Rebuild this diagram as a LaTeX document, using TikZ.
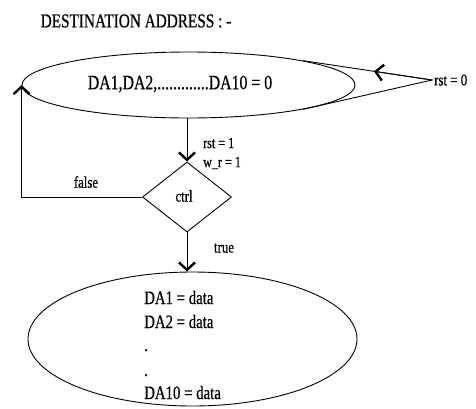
\documentclass[tikz,border=0pt]{standalone}
\usepackage{fontspec}
\setmainfont{Liberation Serif}[FakeStretch=0.78,FakeBold=0.6]
\usetikzlibrary{shapes.geometric,arrows.meta}
\tikzset{
  ln/.style={draw=black, line width=0.9pt},
  arr/.style={ln, -{Straight Barb[length=7.5pt,width=16pt,line width=2.4pt]}},
  bigtxt/.style={font=\fontsize{19.6}{21}\selectfont, inner sep=0pt},
  bodytxt/.style={font=\fontsize{19}{21}\selectfont, inner sep=0pt, anchor=base west},
  lbl/.style={font=\fontsize{15.5}{17}\selectfont, inner sep=0pt},
  midtxt/.style={font=\fontsize{16.4}{18}\selectfont, inner sep=0pt},
  state/.style={ln, ellipse, inner sep=0pt},
}
\begin{document}
\begin{tikzpicture}[x=1pt,y=-1pt]
\useasboundingbox (0,0) rectangle (476,408);
\node[bigtxt] (title) at (136,21) {DESTINATION ADDRESS : -};
\node[state, minimum width=333pt, minimum height=66pt] (top) at (188.5,85) {};
\node[bigtxt, font=\fontsize{20.3}{22}\selectfont] (toptxt) at (180,84) {DA1,DA2,.............DA10 = 0};
\node[ln, diamond, minimum width=89pt, minimum height=70pt, inner sep=0pt] (dia) at (187,197) {};
\node[midtxt] (ctrltxt) at (184,196) {ctrl};
\node[state, minimum width=329pt, minimum height=134pt] (bot) at (192.5,339) {};
\node[bodytxt] (l1) at (144,304) {DA1 = data};
\node[bodytxt] (l2) at (144,328) {DA2 = data};
\node[bodytxt] (l3) at (144,351) {.};
\node[bodytxt] (l4) at (144,376) {.};
\node[bodytxt] (l5) at (144,399) {DA10 = data};
\node[lbl, anchor=west] (rst1) at (203,143) {rst = 1};
\node[lbl, anchor=west] (wr1) at (203,163) {w\_r = 1};
\node[lbl, anchor=west, font=\fontsize{16.5}{18}\selectfont] (rst0) at (434,80) {rst = 0};
\node[midtxt] (false) at (86,182) {false};
\node[midtxt] (true) at (224,248) {true};
\coordinate (tip) at (432,80);
% connectors
\draw[arr] (dia.north |- top.south) -- (dia.north);
\draw[arr] (dia.south) -- (dia.south |- bot.north);
\draw[arr] (dia.west) -| (top.west);
\draw[ln] (top.-12) -- (tip) -- (top.12);
\path (tip) -- (top.12) coordinate[pos=0.45] (am);
\draw[arr] (tip) -- (am);
\end{tikzpicture}
\end{document}
